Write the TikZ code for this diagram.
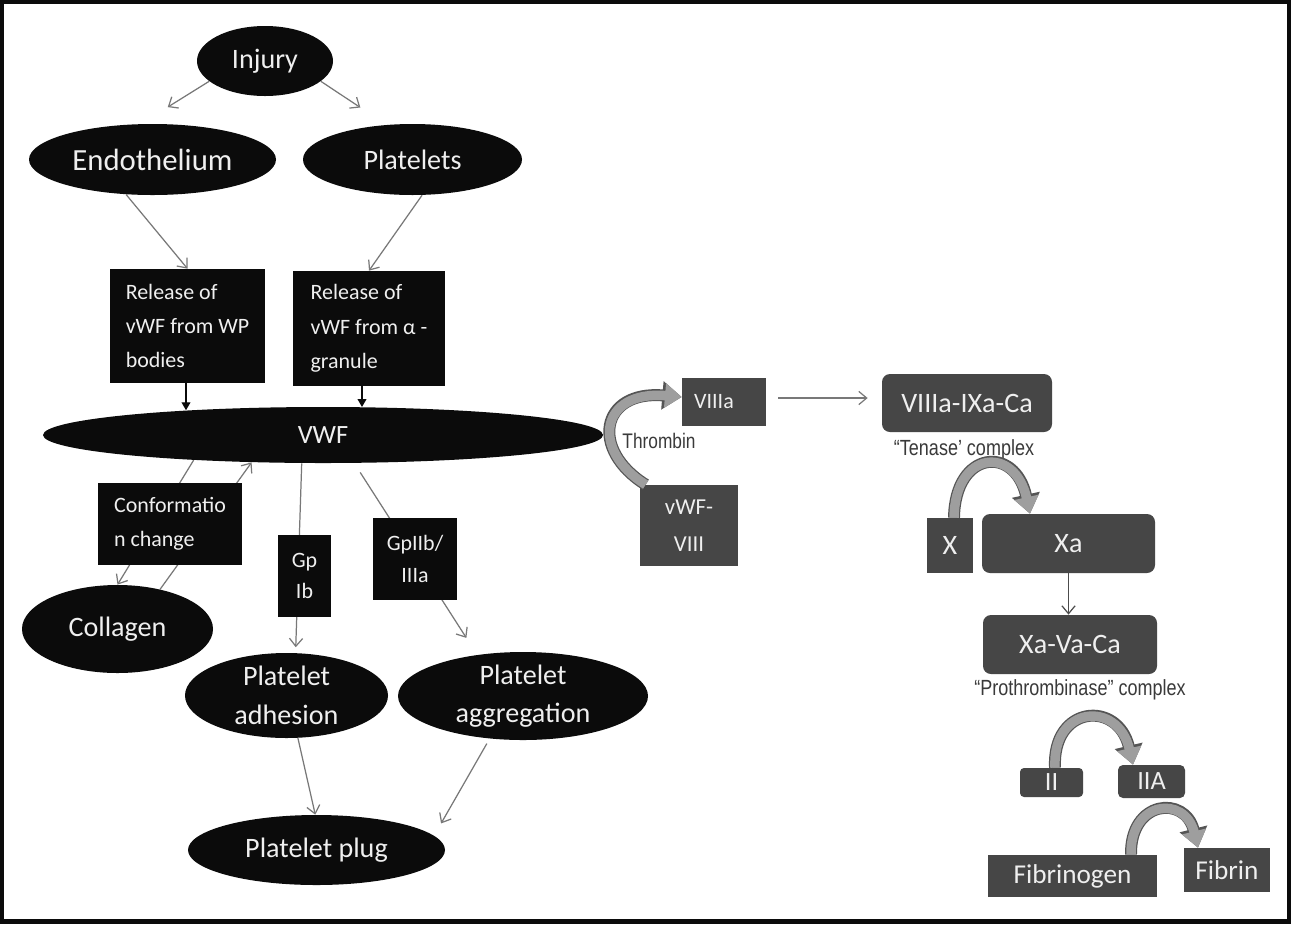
\documentclass[tikz,border=0pt]{standalone}
\usepackage{fontspec}
\setmainfont{Carlito}
\newfontfamily\narrowfont{Liberation Sans}[FakeStretch=0.82]
\usetikzlibrary{arrows.meta,shapes.geometric,backgrounds,calc}

\definecolor{ink}{HTML}{0B0B0B}
\definecolor{slate}{HTML}{464646}
\definecolor{paper}{HTML}{EFEFEF}
\definecolor{wire}{HTML}{787878}
\definecolor{bandfill}{HTML}{9E9E9E}
\definecolor{bandedge}{HTML}{555555}
\definecolor{notegrey}{HTML}{3A3A3A}

\tikzset{
  sz/.style 2 args={minimum width=#1*0.02cm, minimum height=#2*0.02cm},
  blob/.style={ellipse, fill=ink, text=paper, inner xsep=0pt, inner ysep=-4pt,
    align=center, font=\fontsize{16}{22}\selectfont},
  blackbox/.style={rectangle, fill=ink, text=paper, inner sep=0pt,
    font=\fontsize{12.5}{19.5}\selectfont},
  leftbox/.style={align=left, inner sep=0pt},
  greybox/.style={rectangle, fill=slate, text=paper, inner sep=0pt, align=center,
    font=\fontsize{16}{19}\selectfont},
  roundbox/.style={greybox, rounded corners=0.16cm},
  note/.style={text=notegrey, inner sep=0pt, font=\narrowfont\fontsize{12.5}{15}\selectfont},
  conn/.style={draw=wire, line width=0.7pt, -{Straight Barb[length=4.5pt,width=7.5pt]}},
  drop/.style={draw=ink, line width=0.7pt, -{Triangle[length=4.5pt,width=5pt]}},
  band/.style={draw=bandfill, line width=5.4pt, -{Triangle[length=9.5pt,width=13.5pt]},
    preaction={draw=bandedge, line width=6.8pt, -{Triangle[length=11pt,width=15.5pt]}}},
}

\begin{document}
\begin{tikzpicture}[x=0.02cm, y=-0.02cm]
\useasboundingbox (0,0) rectangle (1291,924);

% ---------- platelet side ----------
\node[blob, sz={136}{70}] (inj) at (265,61) {Injury};
\node[blob, sz={247}{71}, font=\fontsize{17.5}{22}\selectfont] (endo) at (152.5,159.5) {Endothelium};
\node[blob, sz={219}{71}] (plat) at (412.5,159.5) {Platelets};
\node[blackbox, leftbox, sz={155}{114}] (rel1) at (187.5,326)
  {Release of\\vWF from WP\\bodies};
\node[blackbox, leftbox, sz={152}{115}] (rel2) at (369,328.5)
  {Release of\\vWF from α -\\granule};
\node[blob, sz={560}{56}, font=\fontsize{15}{18}\selectfont] (vwf) at (323,435) {VWF};
\node[blackbox, leftbox, sz={144}{82}] (conf) at (170,524)
  {Conformatio\\n change};
\node[blackbox, align=center, sz={53}{82}, font=\fontsize{12.5}{18}\selectfont] (gp) at (304.5,576) {Gp\\Ib};
\node[blackbox, align=center, sz={84}{82}, font=\fontsize{12.5}{18}\selectfont] (gp2) at (415,559) {GpIIb/\\IIIa};
\node[blob, sz={191}{88}] (coll) at (117.5,629) {Collagen};
\node[blob, sz={203}{85}] (adh) at (286.5,695.5) {Platelet\\adhesion};
\node[blob, sz={250}{88}] (agg) at (523,696) {Platelet\\aggregation};
\node[blob, sz={257}{70}] (plug) at (316.5,850) {Platelet plug};

% ---------- coagulation side ----------
\node[greybox, sz={84}{48}, font=\fontsize{12.5}{15}\selectfont] (v8a) at (724,402) {\kern-0.4cm VIIIa};
\node[greybox, sz={98}{81}, font=\fontsize{13}{21}\selectfont] (v8) at (689,525.5) {vWF-\\VIII};
\node[roundbox, sz={170}{58}] (ten) at (967,403) {VIIIa-IXa-Ca};
\node[greybox, sz={46}{55}] (xb) at (950,545.5) {X};
\node[roundbox, sz={173}{59}] (xa) at (1068.5,543.5) {Xa};
\node[roundbox, sz={174}{59}] (xvc) at (1070,644.5) {Xa-Va-Ca};
\node[greybox, rounded corners=0.08cm, sz={63}{29}, font=\fontsize{15}{18}\selectfont] (ii) at (1051.5,782.5) {II};
\node[greybox, rounded corners=0.1cm, sz={67}{33}, font=\fontsize{15}{18}\selectfont] (iia) at (1151.5,781.5) {IIA};
\node[greybox, sz={169}{42}, font=\fontsize{15.5}{18}\selectfont] (fg) at (1072.5,876) {Fibrinogen};
\node[greybox, sz={86}{44}, font=\fontsize{15.5}{18}\selectfont] (fb) at (1227,870) {Fibrin};

\node[note, font=\narrowfont\fontsize{12}{14}\selectfont] (thr) at (659,441) {Thrombin};
\node[note] (tlab) at (964,450) {“Tenase’ complex};
\node[note] (plab) at (1080,690) {“Prothrombinase” complex};

% ---------- paper and thin connectors (behind the shapes) ----------
\begin{scope}[on background layer]
  \fill[white] (0,0) rectangle (1291,924);
  \draw[conn, shorten >=31.6*0.02cm] (inj.200.9) -- (endo.108.7);
  \draw[conn, shorten >=31.1*0.02cm] (inj.340.9) -- (plat.127.8);
  \draw[conn] (endo.233) -- (rel1.north);
  \draw[conn] (plat.285.5) -- (rel2.north);
  \draw[drop] ($(rel1.south)+(-1.5,0)$) -- ($(rel1.south |- vwf.north)+(-1.5,3.6)$);
  \draw[drop] ($(rel2.south)+(-7,0)$) -- ($(rel2.south |- vwf.north)+(-7,0.3)$);
  % loop between VWF and collagen, running behind the conformation box
  \draw[conn] (vwf.191) -- (coll.north);
  \draw[conn] (coll.43) -- (vwf.201);
  % receptor routes, running behind their boxes
  \draw[conn, shorten >=5.6*0.02cm] (vwf.233) -- (adh.78.6);
  \draw[conn, shorten <=11*0.02cm, shorten >=20*0.02cm] (vwf.318.1) -- (agg.138.1);
  \draw[conn] (adh.285.2) -- (plug.92.5);
  \draw[conn, shorten <=5.6*0.02cm, shorten >=14*0.02cm] (agg.232.8) -- (plug.7.35);
  % coagulation cascade
  \draw[conn, shorten <=12*0.02cm, shorten >=14*0.02cm]
    ($(v8a.east)+(0,-4)$) -- ($(v8a.east -| ten.west)+(0,-4)$);
  \draw[conn, draw=black!70] (xa.south) -- (xa.south |- xvc.north);
\end{scope}

% frame
\draw[ink, line width=0.08cm] (2,2) rectangle (1289,920.5);
\draw[ink, line width=0.1cm] (0,921.5) -- (1291,921.5);

% ---------- activation arrows ----------
\draw[band] ($(v8.north west)+(6,0)$) .. controls (590,450) and (600,390) .. ($(v8a.west)+(0,-5)$);
\draw[band] ($(xb.north)+(4,0)$) .. controls (955,450) and (1015,445) .. ($(xa.north)+(-38.5,0)$);
\draw[band] ($(ii.north)+(3.5,0)$) .. controls (1052,705) and (1118,700) .. ($(iia.north)+(-18.5,0)$);
\draw[band] ($(fg.north)+(58.5,0)$) .. controls (1130,800) and (1185,795) .. ($(fb.north)+(-29,0)$);
\end{tikzpicture}
\end{document}
